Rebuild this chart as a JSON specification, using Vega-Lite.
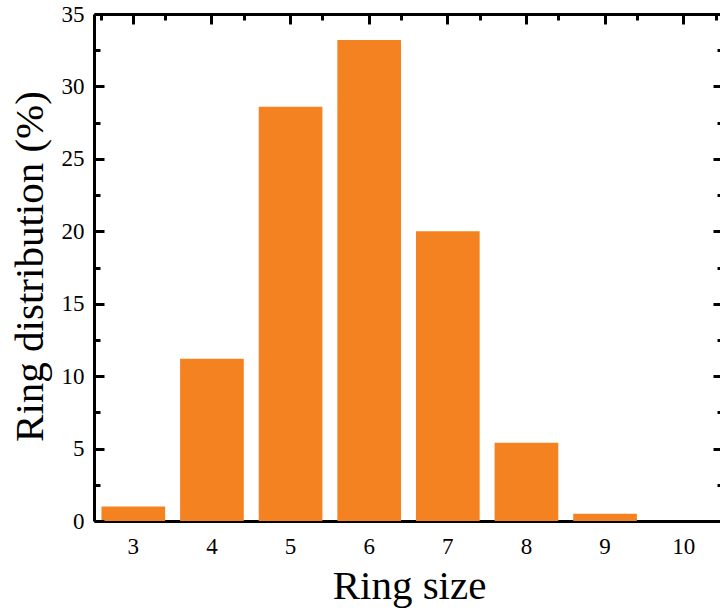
{
  "$schema": "https://vega.github.io/schema/vega-lite/v6.json",
  "autosize": {"type": "none"},
  "padding": {"left": 94, "top": 14, "right": 0, "bottom": 93},
  "width": 629,
  "height": 507,
  "data": {
    "values": [
      {"size": "3", "value": 1.0},
      {"size": "4", "value": 11.2},
      {"size": "5", "value": 28.6},
      {"size": "6", "value": 33.2},
      {"size": "7", "value": 20.0},
      {"size": "8", "value": 5.4},
      {"size": "9", "value": 0.5},
      {"size": "10", "value": 0.0}
    ]
  },
  "config": {
    "view": {"stroke": null},
    "font": "Liberation Serif",
    "axis": {
      "labelFont": "Liberation Serif",
      "titleFont": "Liberation Serif",
      "labelColor": "#000000",
      "titleColor": "#000000",
      "domainColor": "#000000",
      "tickColor": "#000000",
      "domainWidth": 3,
      "tickWidth": 3,
      "grid": false,
      "titleFontWeight": "normal"
    }
  },
  "resolve": {"axis": {"x": "independent", "y": "independent"}},
  "layer": [
    {
      "mark": {"type": "bar", "color": "#F58220"},
      "encoding": {
        "x": {
          "field": "size", "type": "ordinal", "sort": null,
          "scale": {"paddingInner": 0.19, "paddingOuter": 0.095},
          "axis": {
            "orient": "bottom", "ticks": false, "labelAngle": 0,
            "labelFontSize": 23, "labelPadding": 32, "labelBaseline": "alphabetic",
            "title": "Ring size", "titleFontSize": 41, "titleX": 315, "titleY": 77,
            "titleBaseline": "alphabetic", "titleAlign": "center"
          }
        },
        "y": {
          "field": "value", "type": "quantitative",
          "scale": {"domain": [0, 35], "nice": false, "zero": true},
          "axis": {
            "orient": "left", "ticks": false, "values": [0, 5, 10, 15, 20, 25, 30, 35],
            "labelFontSize": 23, "labelPadding": 10,
            "title": "Ring distribution (%)", "titleFontSize": 41,
            "titleX": -52, "titleY": 252, "titleAngle": -90,
            "titleBaseline": "alphabetic", "titleAlign": "center"
          }
        }
      }
    },
    {
      "mark": {"type": "bar", "opacity": 0},
      "encoding": {
        "x": {
          "field": "size", "type": "ordinal", "sort": null,
          "axis": {"orient": "top", "labels": false, "tickSize": -10, "title": null, "zindex": 1}
        },
        "y": {
          "field": "value", "type": "quantitative",
          "axis": {"orient": "right", "labels": false, "tickSize": -10, "values": [0, 5, 10, 15, 20, 25, 30, 35], "title": null, "zindex": 1}
        }
      }
    },
    {
      "mark": {"type": "bar", "opacity": 0},
      "encoding": {
        "x": {
          "field": "size", "type": "ordinal", "sort": null,
          "axis": {"orient": "top", "labels": false, "domain": false, "tickBand": "extent", "tickSize": -6, "title": null, "zindex": 1}
        },
        "y": {
          "field": "value", "type": "quantitative",
          "axis": {"orient": "left", "labels": false, "domain": false, "tickSize": -6, "values": [2.5, 7.5, 12.5, 17.5, 22.5, 27.5, 32.5], "title": null, "zindex": 1}
        }
      }
    },
    {
      "mark": {"type": "bar", "opacity": 0},
      "encoding": {
        "x": {"field": "size", "type": "ordinal", "sort": null, "axis": null},
        "y": {
          "field": "value", "type": "quantitative",
          "axis": {"orient": "right", "labels": false, "domain": false, "tickSize": -6, "values": [2.5, 7.5, 12.5, 17.5, 22.5, 27.5, 32.5], "title": null, "zindex": 1}
        }
      }
    },
    {
      "mark": {"type": "bar", "opacity": 0},
      "encoding": {
        "x": {"field": "size", "type": "ordinal", "sort": null, "axis": null},
        "y": {
          "field": "value", "type": "quantitative",
          "axis": {"orient": "left", "labels": false, "domain": false, "tickSize": -10, "values": [0, 5, 10, 15, 20, 25, 30, 35], "title": null, "zindex": 1}
        }
      }
    }
  ]
}
